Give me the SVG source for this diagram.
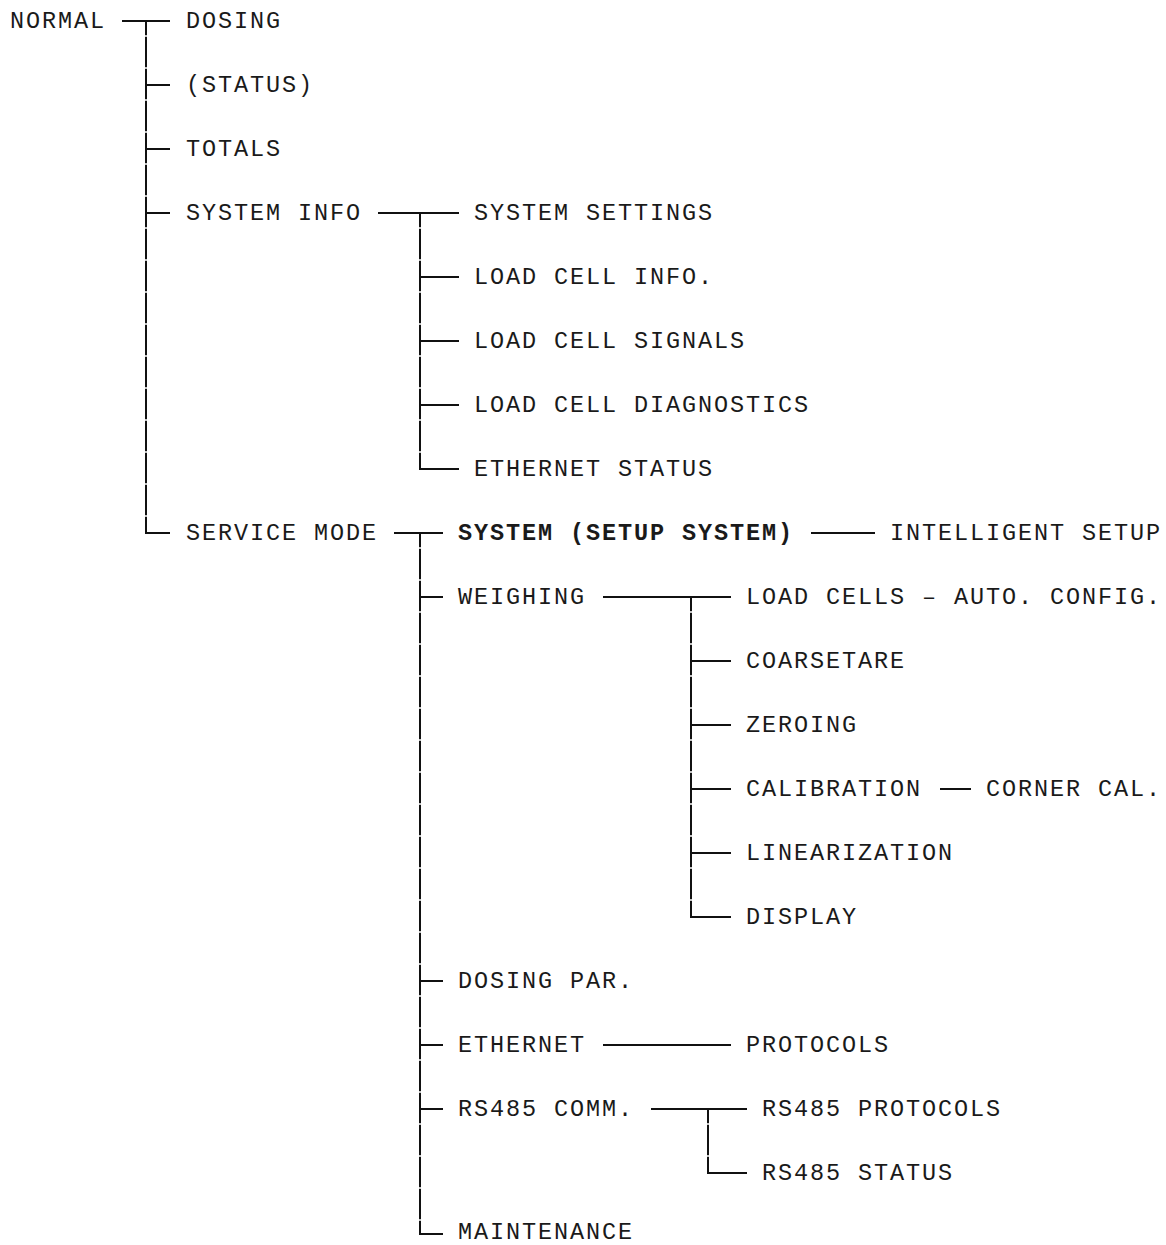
<svg xmlns="http://www.w3.org/2000/svg" width="1166" height="1245" viewBox="0 0 1166 1245">
<style>
text{font-family:"Liberation Mono","Courier New",monospace;font-size:23.5px;letter-spacing:1.9px;fill:#1a1a1a}
.b{font-weight:bold}
.c line{stroke:#111;stroke-width:2;fill:none}
.c .v{stroke-dasharray:30.5 1.5;stroke-dashoffset:16.25}
</style>
<rect width="1166" height="1245" fill="#fff"/>
<g class="c" id="connectors">
<line class="v" x1="146" y1="21" x2="146" y2="533"/>
<line x1="122" y1="21" x2="170" y2="21"/>
<line x1="146" y1="85" x2="170" y2="85"/>
<line x1="146" y1="149" x2="170" y2="149"/>
<line x1="146" y1="213" x2="170" y2="213"/>
<line x1="145" y1="533" x2="170" y2="533"/>
<line class="v" x1="420" y1="213" x2="420" y2="469"/>
<line x1="378" y1="213" x2="459" y2="213"/>
<line x1="420" y1="277" x2="459" y2="277"/>
<line x1="420" y1="341" x2="459" y2="341"/>
<line x1="420" y1="405" x2="459" y2="405"/>
<line x1="419" y1="469" x2="459" y2="469"/>
<line class="v" x1="420" y1="533" x2="420" y2="1234"/>
<line x1="394" y1="533" x2="443" y2="533"/>
<line x1="811" y1="533" x2="875" y2="533"/>
<line x1="420" y1="597" x2="443" y2="597"/>
<line x1="420" y1="981" x2="443" y2="981"/>
<line x1="420" y1="1045" x2="443" y2="1045"/>
<line x1="420" y1="1109" x2="443" y2="1109"/>
<line x1="419" y1="1234" x2="443" y2="1234"/>
<line class="v" x1="691" y1="597" x2="691" y2="917"/>
<line x1="603" y1="597" x2="731" y2="597"/>
<line x1="691" y1="661" x2="731" y2="661"/>
<line x1="691" y1="725" x2="731" y2="725"/>
<line x1="691" y1="789" x2="731" y2="789"/>
<line x1="691" y1="853" x2="731" y2="853"/>
<line x1="690" y1="917" x2="731" y2="917"/>
<line x1="940" y1="789" x2="971" y2="789"/>
<line x1="603" y1="1045" x2="731" y2="1045"/>
<line class="v" x1="708" y1="1109" x2="708" y2="1173"/>
<line x1="651" y1="1109" x2="747" y2="1109"/>
<line x1="707" y1="1173" x2="747" y2="1173"/>
</g>
<g id="normal"><text x="10" y="28">NORMAL</text></g>
<g id="dosing"><text x="186" y="28">DOSING</text></g>
<g id="status"><text x="186" y="92">(STATUS)</text></g>
<g id="totals"><text x="186" y="156">TOTALS</text></g>
<g id="system-info"><text x="186" y="220">SYSTEM INFO</text></g>
<g id="system-settings"><text x="474" y="220">SYSTEM SETTINGS</text></g>
<g id="load-cell-info"><text x="474" y="284">LOAD CELL INFO.</text></g>
<g id="load-cell-signals"><text x="474" y="348">LOAD CELL SIGNALS</text></g>
<g id="load-cell-diagnostics"><text x="474" y="412">LOAD CELL DIAGNOSTICS</text></g>
<g id="ethernet-status"><text x="474" y="476">ETHERNET STATUS</text></g>
<g id="service-mode"><text x="186" y="540">SERVICE MODE</text></g>
<g id="system-setup"><text class="b" x="458" y="540">SYSTEM (SETUP SYSTEM)</text></g>
<g id="intelligent-setup"><text x="890" y="540">INTELLIGENT SETUP</text></g>
<g id="weighing"><text x="458" y="604">WEIGHING</text></g>
<g id="load-cells-auto"><text x="746" y="604">LOAD CELLS – AUTO. CONFIG.</text></g>
<g id="coarsetare"><text x="746" y="668">COARSETARE</text></g>
<g id="zeroing"><text x="746" y="732">ZEROING</text></g>
<g id="calibration"><text x="746" y="796">CALIBRATION</text></g>
<g id="corner-cal"><text x="986" y="796">CORNER CAL.</text></g>
<g id="linearization"><text x="746" y="860">LINEARIZATION</text></g>
<g id="display"><text x="746" y="924">DISPLAY</text></g>
<g id="dosing-par"><text x="458" y="988">DOSING PAR.</text></g>
<g id="ethernet"><text x="458" y="1052">ETHERNET</text></g>
<g id="protocols"><text x="746" y="1052">PROTOCOLS</text></g>
<g id="rs485-comm"><text x="458" y="1116">RS485 COMM.</text></g>
<g id="rs485-protocols"><text x="762" y="1116">RS485 PROTOCOLS</text></g>
<g id="rs485-status"><text x="762" y="1180">RS485 STATUS</text></g>
<g id="maintenance"><text x="458" y="1239">MAINTENANCE</text></g>
</svg>
